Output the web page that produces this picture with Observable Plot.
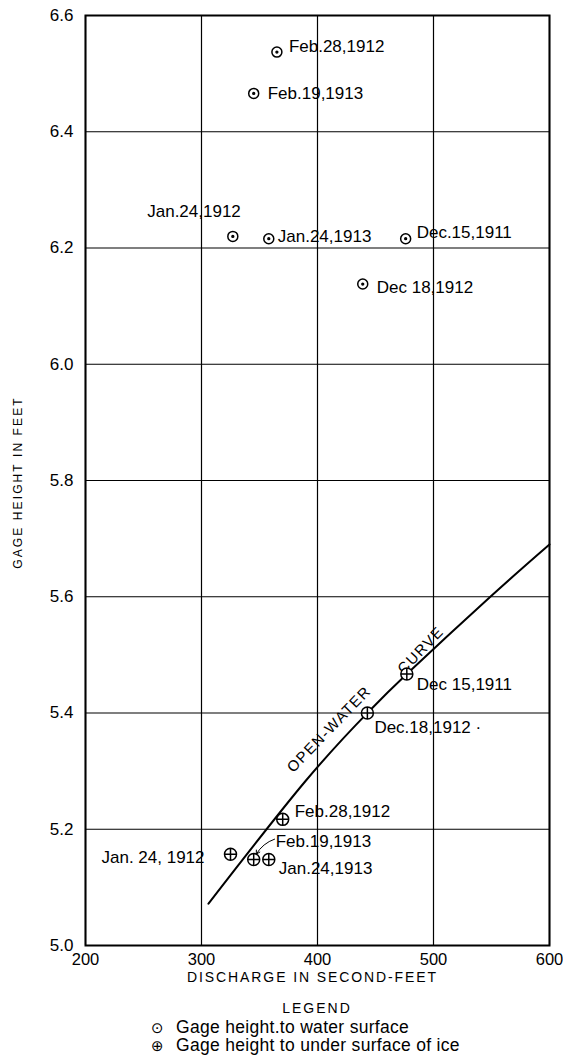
<!DOCTYPE html>
<html>
<head>
<meta charset="utf-8">
<script src="https://cdn.jsdelivr.net/npm/d3@7"></script>
<script src="https://cdn.jsdelivr.net/npm/@observablehq/plot@0.6"></script>
<style>
  html, body { margin: 0; padding: 0; background: #fff; }
  #chart { width: 563px; }
  .legend { font-family: "Liberation Sans", "DejaVu Sans", sans-serif; color: #000; width: 563px; position: relative; height: 61px; }
  .legend .title { position: absolute; left: 0; width: 634px; text-align: center; top: 5px; font-size: 14px; letter-spacing: 2px; line-height: 16px; }
  .legend .row { position: absolute; left: 151px; font-size: 17.5px; line-height: 18px; white-space: nowrap; letter-spacing: 0.3px; }
  .legend .sym { display: inline-block; width: 25px; font-family: "DejaVu Sans", sans-serif; font-size: 15px; }
</style>
</head>
<body>
<div id="chart"></div>
<div class="legend">
  <div class="title">LEGEND</div>
  <div class="row" style="top:23px"><span class="sym">⊙</span>Gage height.to water surface</div>
  <div class="row" style="top:41px"><span class="sym">⊕</span>Gage height to under surface of ice</div>
</div>
<script>
// ---- Data ----
const xTicks = [200, 300, 400, 500, 600];
const yTicks = [5.0, 5.2, 5.4, 5.6, 5.8, 6.0, 6.2, 6.4, 6.6];

// Gage height to water surface
const waterDates = ["Feb.28,1912", "Feb.19,1913", "Jan.24,1912", "Jan.24,1913", "Dec.15,1911", "Dec 18,1912"];
const waterQ  = [365, 345, 327, 358, 476, 439];
const waterGH = [6.537, 6.466, 6.22, 6.216, 6.216, 6.138];

// Gage height to under surface of ice
const iceDates = ["Dec 15,1911", "Dec.18,1912 ·", "Feb.28,1912", "Feb.19,1913", "Jan. 24, 1912", "Jan.24,1913"];
const iceQ  = [477, 443, 370, 345, 325, 358];
const iceGH = [5.467, 5.40, 5.217, 5.148, 5.157, 5.148];

// Open-water rating curve
const curveQ  = [306, 389.7, 443, 477, 549, 600];
const curveGH = [5.072, 5.283, 5.40, 5.467, 5.60, 5.69];

// Curve label annotations
const curveLabels = ["OPEN-WATER", "CURVE"];
const curveLabelQ  = [410, 489];
const curveLabelGH = [5.372, 5.508];

// Arrow annotation (Feb.19,1913 ice label -> point)
const arrowQ1 = [363], arrowGH1 = [5.183], arrowQ2 = [345], arrowGH2 = [5.148];

// ---- Styles (label offsets in px) ----
const waterLabelStyle = [
  {anchor: "start", dx: 12, dy: -6},
  {anchor: "start", dx: 14, dy: 0},
  {anchor: "end",   dx: 8,  dy: -25},
  {anchor: "start", dx: 9,  dy: -2},
  {anchor: "start", dx: 11, dy: -6},
  {anchor: "start", dx: 14, dy: 4}
];
const iceLabelStyle = [
  {anchor: "start", dx: 10, dy: 10},
  {anchor: "start", dx: 7,  dy: 15},
  {anchor: "start", dx: 12, dy: -8},
  {anchor: "start", dx: 22, dy: -18},
  {anchor: "end",   dx: -26, dy: 3},
  {anchor: "start", dx: 10, dy: 9}
];

const water = waterDates.map((d, i) => ({date: d, q: waterQ[i], gh: waterGH[i], ...waterLabelStyle[i]}));
const ice = iceDates.map((d, i) => ({date: d, q: iceQ[i], gh: iceGH[i], ...iceLabelStyle[i]}));
const curve = curveQ.map((q, i) => ({q, gh: curveGH[i]}));
const arrows = arrowQ1.map((q, i) => ({q1: q, gh1: arrowGH1[i], q2: arrowQ2[i], gh2: arrowGH2[i]}));
const curveText = curveLabels.map((t, i) => ({t, q: curveLabelQ[i], gh: curveLabelGH[i]}));

const FONT = "Liberation Sans, DejaVu Sans, sans-serif";

// custom symbols
const dotCircle = {
  draw(ctx, size) {
    const r = Math.sqrt(size / Math.PI);
    ctx.moveTo(r, 0); ctx.arc(0, 0, r, 0, 2 * Math.PI);
    ctx.moveTo(0.9, 0); ctx.arc(0, 0, 0.9, 0, 2 * Math.PI);
  }
};
const crossCircle = {
  draw(ctx, size) {
    const r = Math.sqrt(size / Math.PI);
    ctx.moveTo(r, 0); ctx.arc(0, 0, r, 0, 2 * Math.PI);
    ctx.moveTo(-r, 0); ctx.lineTo(r, 0);
    ctx.moveTo(0, -r); ctx.lineTo(0, r);
  }
};

function labelMarks(data) {
  return data.map(d => Plot.text([d], {
    x: "q", y: "gh", text: "date", textAnchor: d.anchor,
    dx: d.dx, dy: d.dy, fontSize: 17, fontFamily: FONT, fill: "#000"
  }));
}

const chart = Plot.plot({
  width: 563,
  height: 995,
  marginLeft: 85,
  marginRight: 14,
  marginTop: 15,
  marginBottom: 50,
  style: {background: "#fff", color: "#000", fontFamily: FONT},
  x: {domain: [200, 600], ticks: xTicks},
  y: {domain: [5.0, 6.6], ticks: yTicks},
  marks: [
    Plot.gridX(xTicks, {stroke: "#000", strokeOpacity: 1, strokeWidth: 1.2}),
    Plot.gridY(yTicks, {stroke: "#000", strokeOpacity: 1, strokeWidth: 1.2}),
    Plot.frame({stroke: "#000", strokeWidth: 2}),
    Plot.axisX(xTicks, {tickSize: 0, tickPadding: 8, fontSize: 16.5, label: null, tickFormat: d => String(d)}),
    Plot.axisY(yTicks, {tickSize: 0, tickPadding: 12, fontSize: 17, label: null, tickFormat: d3.format(".1f")}),
    Plot.text(["DISCHARGE IN SECOND-FEET"], {frameAnchor: "bottom", dx: -5, dy: 36, fontSize: 14, fontFamily: FONT, fill: "#000"}),
    Plot.text(["GAGE HEIGHT IN FEET"], {frameAnchor: "left", textAnchor: "middle", dx: -67, dy: 2, rotate: -90, fontSize: 12, fontFamily: FONT, fill: "#000"}),
    Plot.line(curve, {x: "q", y: "gh", curve: "natural", stroke: "#000", strokeWidth: 2}),
    Plot.text(curveText, {x: "q", y: "gh", text: "t", rotate: -46, fontSize: 15, fontFamily: FONT, fill: "#000"}),
    Plot.dot(water, {x: "q", y: "gh", symbol: dotCircle, r: 5, stroke: "#000", strokeWidth: 1.5, fill: "none"}),
    Plot.dot(ice, {x: "q", y: "gh", symbol: crossCircle, r: 6, stroke: "#000", strokeWidth: 1.5, fill: "#fff"}),
    ...labelMarks(water),
    ...labelMarks(ice),
    Plot.arrow(arrows, {x1: "q1", y1: "gh1", x2: "q2", y2: "gh2", bend: -25, insetEnd: 6, headLength: 6, stroke: "#000", strokeWidth: 1})
  ]
});

// letter spacing on axis labels
chart.querySelectorAll("text").forEach(t => {
  if (t.textContent === "GAGE HEIGHT IN FEET") t.setAttribute("letter-spacing", "2.1");
  if (t.textContent === "DISCHARGE IN SECOND-FEET") t.setAttribute("letter-spacing", "1.9");
  if (t.textContent === "OPEN-WATER" || t.textContent === "CURVE") t.setAttribute("letter-spacing", "1.3");
});
document.getElementById("chart").appendChild(chart);
</script>
</body>
</html>
